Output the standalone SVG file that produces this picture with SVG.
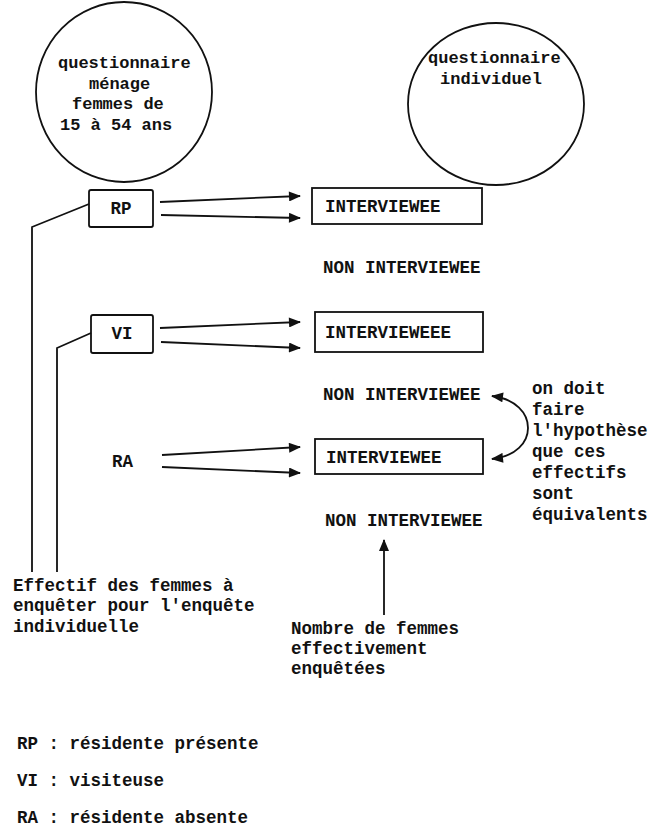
<svg xmlns="http://www.w3.org/2000/svg" width="658" height="834" viewBox="0 0 658 834">
<defs>
<style>
text{font-family:"Liberation Mono","DejaVu Sans Mono",monospace;font-size:17.5px;font-weight:bold;fill:#111}
.small{font-size:17px}
.shape{fill:none;stroke:#111;stroke-width:1.8}
.box{fill:#fff;stroke:#111;stroke-width:1.8}
.ln{fill:none;stroke:#111;stroke-width:1.8}
.ar{fill:none;stroke:#111;stroke-width:1.8;marker-end:url(#ah)}
.mid{text-anchor:middle}
</style>
<marker id="ah" viewBox="0 0 12 10" refX="11" refY="5" markerWidth="13" markerHeight="10" markerUnits="userSpaceOnUse" orient="auto-start-reverse">
<path d="M0,0 L12,5 L0,10 Z" fill="#111"/>
</marker>
</defs>
<rect width="658" height="834" fill="#fff"/>

<g id="circle-menage">
<ellipse class="shape" cx="124" cy="92" rx="88" ry="90"/>
<text class="small" x="58" y="68">questionnaire</text>
<text class="small" x="89" y="89">ménage</text>
<text class="small" x="72" y="109">femmes de</text>
<text class="small" x="60" y="130">15 à 54 ans</text>
</g>

<g id="circle-individuel">
<ellipse class="shape" cx="496" cy="104" rx="88" ry="81"/>
<text class="small" x="428" y="63">questionnaire</text>
<text class="small" x="440" y="84">individuel</text>
</g>

<g id="rp">
<rect class="box" x="89" y="190" width="64" height="37" rx="2"/>
<text class="mid" x="121" y="214">RP</text>
</g>
<g id="vi">
<rect class="box" x="91" y="315" width="62" height="38" rx="2"/>
<text class="mid" x="122" y="339">VI</text>
</g>
<g id="ra">
<text x="112" y="467">RA</text>
</g>

<g id="interviewee-1">
<rect class="box" x="312" y="188" width="170" height="36"/>
<text x="325" y="212">INTERVIEWEE</text>
</g>
<g id="non-1"><text x="323" y="273">NON INTERVIEWEE</text></g>
<g id="interviewee-2">
<rect class="box" x="315" y="312" width="168" height="40"/>
<text x="325" y="338">INTERVIEWEEE</text>
</g>
<g id="non-2"><text x="323" y="400">NON INTERVIEWEE</text></g>
<g id="interviewee-3">
<rect class="box" x="315" y="439" width="168" height="35"/>
<text x="326" y="463">INTERVIEWEE</text>
</g>
<g id="non-3"><text x="325" y="526">NON INTERVIEWEE</text></g>

<g id="note-hypothese">
<text x="532" y="394">on doit</text>
<text x="532" y="415">faire</text>
<text x="532" y="436">l'hypothèse</text>
<text x="532" y="457">que ces</text>
<text x="532" y="478">effectifs</text>
<text x="532" y="499">sont</text>
<text x="532" y="520">équivalents</text>
</g>

<g id="note-effectif">
<text x="13" y="591">Effectif des femmes à</text>
<text x="13" y="611">enquêter pour l'enquête</text>
<text x="13" y="632">individuelle</text>
</g>

<g id="note-nombre">
<text x="291" y="634">Nombre de femmes</text>
<text x="291" y="654">effectivement</text>
<text x="291" y="674">enquêtées</text>
</g>

<g id="legend">
<text x="17" y="749">RP : résidente présente</text>
<text x="17" y="786">VI : visiteuse</text>
<text x="17" y="823">RA : résidente absente</text>
</g>

<g id="connectors">
<polyline class="ln" points="89,204 32,227 32,572"/>
<polyline class="ln" points="91,333 57,348 57,572"/>
<line class="ar" x1="160" y1="202" x2="300" y2="196"/>
<line class="ar" x1="161" y1="215" x2="300" y2="218"/>
<line class="ar" x1="160" y1="328" x2="300" y2="322"/>
<line class="ar" x1="161" y1="342" x2="300" y2="348"/>
<line class="ar" x1="162" y1="455" x2="300" y2="447"/>
<line class="ar" x1="162" y1="467" x2="300" y2="473"/>
<line class="ar" x1="384" y1="615" x2="384" y2="540"/>
<path class="ln" d="M492,396 C540,402 540,454 492,459" style="marker-start:url(#ah);marker-end:url(#ah)"/>
</g>
</svg>
